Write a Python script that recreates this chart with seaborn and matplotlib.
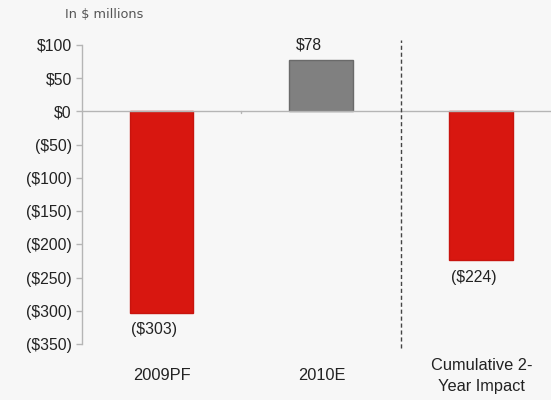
import matplotlib
matplotlib.use("Agg")
import matplotlib.pyplot as plt
import matplotlib.ticker as mticker
import pandas as pd
import seaborn as sns

CATEGORIES = ["2009PF", "2010E", "Cumulative 2-\nYear Impact"]
VALUES = [-303, 78, -224]
BAR_COLORS = ["#d81710", "#808080", "#d81710"]
EDGE_COLORS = ["#c8140e", "#6a6a6a", "#c8140e"]
VALUE_LABELS = ["($303)", "$78", "($224)"]
Y_TICKS = [100, 50, 0, -50, -100, -150, -200, -250, -300, -350]

BG = "#f7f7f7"


def money(v, _pos=None):
    v = int(round(v))
    return f"${v}" if v >= 0 else f"(${-v})"


def main() -> None:
    sns.set_style("white")
    plt.rcParams["font.family"] = ["Liberation Sans", "DejaVu Sans"]

    data = pd.DataFrame({"category": CATEGORIES, "value": VALUES})

    fig = plt.figure(figsize=(5.51, 4.0), dpi=100, facecolor=BG)
    ax = fig.add_axes([0.148, 0.14, 0.862, 0.7475], facecolor=BG)

    sns.barplot(
        data=data,
        x="category",
        y="value",
        hue="category",
        palette=BAR_COLORS,
        saturation=1,
        width=0.4,
        legend=False,
        ax=ax,
    )
    for patch, ec in zip(ax.patches, EDGE_COLORS):
        patch.set_edgecolor(ec)
        patch.set_linewidth(1.0)

    ax.set_ylim(-350, 100)
    ax.set_xlim(-0.5, 2.47)
    ax.yaxis.set_major_locator(mticker.FixedLocator(Y_TICKS))
    ax.yaxis.set_major_formatter(mticker.FuncFormatter(money))

    for side in ["top", "right", "bottom"]:
        ax.spines[side].set_visible(False)
    ax.spines["left"].set_color("#b5b5b5")
    ax.spines["left"].set_linewidth(1.0)

    ax.tick_params(axis="y", length=4, width=1, color="#b5b5b5", labelsize=11.3,
                   labelcolor="#222222", pad=3, left=True)
    ax.tick_params(axis="x", length=0, labelsize=11.8, labelcolor="#222222", pad=23)
    for lab in ax.get_xticklabels():
        lab.set_verticalalignment("center")
        lab.set_linespacing(1.5)
    ax.set_xlabel("")
    ax.set_ylabel("")

    # zero line and category separators
    ax.axhline(0, color="#b5b5b5", linewidth=1.0, zorder=1)
    ax.axvline(0.5, ymin=0.771, ymax=0.778, color="#b5b5b5", linewidth=1.0)
    ax.axvline(1.5, ymin=-0.013, ymax=1.017, color="#444444", linewidth=1.0,
               linestyle=(0, (3, 2)), clip_on=False)

    # value labels
    for i, (v, lab) in enumerate(zip(VALUES, VALUE_LABELS)):
        if v >= 0:
            ax.text(i - 0.08, v + 11, lab, ha="center", va="bottom",
                    fontsize=11.3, color="#222222")
        else:
            ax.text(i - 0.05, v - 14, lab, ha="center", va="top",
                    fontsize=11.3, color="#222222")

    fig.text(0.118, 0.965, "In $ millions", fontsize=9.3, color="#555555",
             family="DejaVu Sans", ha="left", va="center")

    fig.savefig("out.png", dpi=100, facecolor=BG)
    plt.close(fig)


if __name__ == "__main__":
    main()
